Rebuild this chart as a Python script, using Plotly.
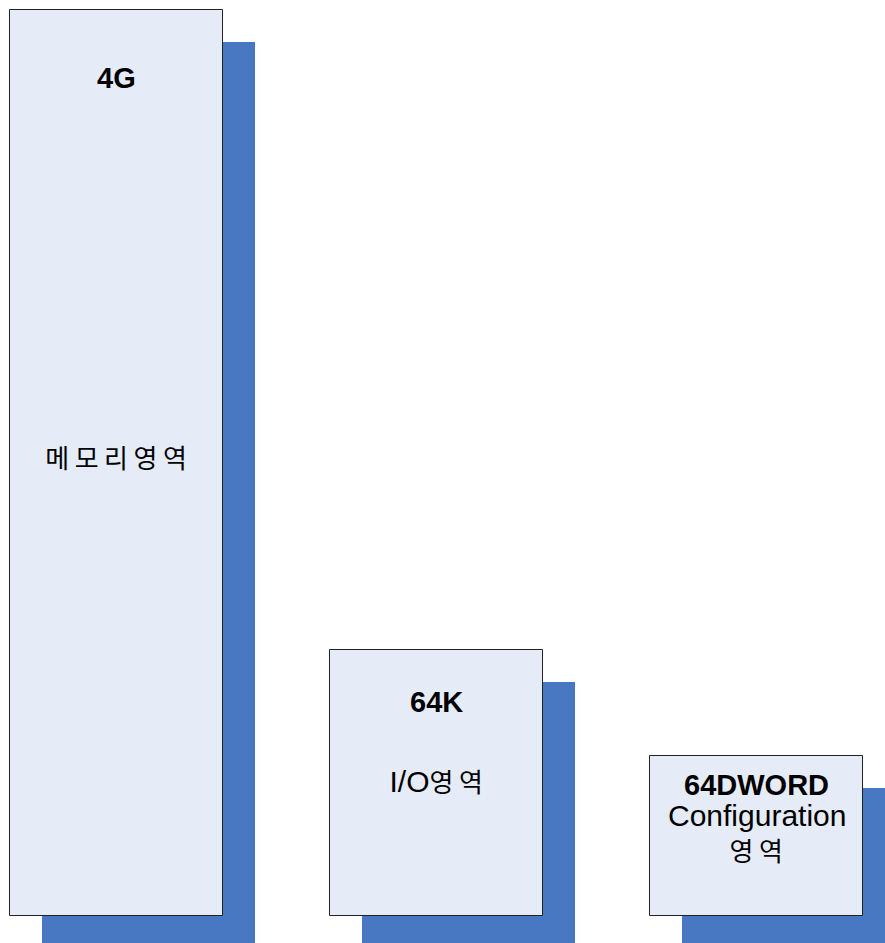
import plotly.graph_objects as go

# Data
region_sizes = ["4G", "64K", "64DWORD"]
region_names = [["메모리영역"], ["I/O영역"], ["Configuration", "영역"]]
box_tops = [10, 650, 756]      # top edge of each box (pixel-like units, y down)
box_bottom = 916
box_width = 213
box_lefts = [10, 330, 650]
shadow_offset = 32

BOX_FILL = "#E6ECF7"
SHADOW = "#4878C1"
EDGE = "#222222"

centers = [l + box_width / 2 for l in box_lefts]
heights = [box_bottom - t for t in box_tops]

fig = go.Figure()
# shadows
fig.add_trace(go.Bar(
    x=[c + shadow_offset for c in centers],
    y=[-(h + 40) for h in heights],
    base=[box_bottom + shadow_offset + 40] * 3,
    width=box_width,
    marker=dict(color=SHADOW, line=dict(width=0)),
    hoverinfo="skip", showlegend=False,
))
# boxes
fig.add_trace(go.Bar(
    x=centers,
    y=[-h for h in heights],
    base=[box_bottom] * 3,
    width=box_width,
    marker=dict(color=BOX_FILL, line=dict(width=1, color=EDGE)),
    hoverinfo="skip", showlegend=False,
))

LAT = "Liberation Sans, Arial, sans-serif"
KOR = "Liberation Sans, Noto Sans CJK KR, sans-serif"
KSIZE = 26
KSPACING = 5.5


def korean_span(s):
    # wrap hangul runs in a span so they can get their own size
    out, run = "", ""
    for ch in s:
        if "\uac00" <= ch <= "\ud7a3":
            run += ch
        else:
            if run:
                out += "<span style='font-size:%dpx'>%s</span>" % (KSIZE, run)
                run = ""
            out += ch
    if run:
        out += "<span style='font-size:%dpx'>%s</span>" % (KSIZE, run)
    return out


size_y = [78, 702, 785]
for c, s, y in zip(centers, region_sizes, size_y):
    fig.add_annotation(x=c, y=y, text="<b>%s</b>" % s, showarrow=False,
                       xanchor="center", yanchor="middle",
                       font=dict(family=LAT, size=29, color="#000000"))

name_y = [[459], [781], [815, 852]]
for c, lines, ys in zip(centers, region_names, name_y):
    for t, y in zip(lines, ys):
        has_k = any("\uac00" <= ch <= "\ud7a3" for ch in t)
        fig.add_annotation(x=c, y=y, text=korean_span(t), showarrow=False,
                           xanchor="center", yanchor="middle",
                           xshift=KSPACING / 2 if has_k else 0,
                           font=dict(family=KOR, size=30, color="#000000"))

fig.update_layout(
    width=885, height=943,
    margin=dict(l=0, r=0, t=0, b=0),
    paper_bgcolor="white", plot_bgcolor="white",
    barmode="overlay", bargap=0,
    xaxis=dict(range=[0, 885], visible=False, fixedrange=True),
    yaxis=dict(range=[943, 0], visible=False, fixedrange=True),
)

post = """
var gd = document.getElementById('{plot_id}');
gd.querySelectorAll('.annotation-text tspan').forEach(function(t){
  if (/[\\uAC00-\\uD7A3]/.test(t.textContent)) { t.style.letterSpacing = '%spx'; }
});
""" % KSPACING

fig.write_html("out.html", config={"displayModeBar": False}, post_script=post)
